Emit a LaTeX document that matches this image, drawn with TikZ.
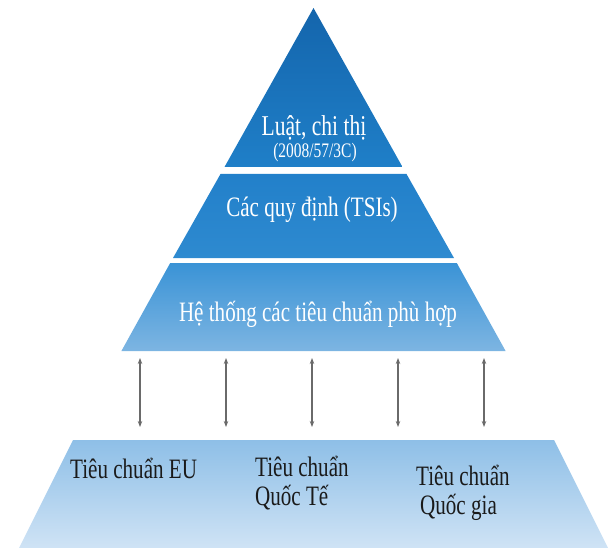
\documentclass[tikz,border=0pt]{standalone}
\usepackage{fontspec}
\setmainfont{Liberation Serif}[FakeStretch=0.75]
\usetikzlibrary{arrows.meta}
\definecolor{tierA}{HTML}{1465AC}
\definecolor{tierAb}{HTML}{1F7FC8}
\definecolor{tierB}{HTML}{2280CA}
\definecolor{tierBb}{HTML}{2E8AD0}
\definecolor{tierC}{HTML}{3A93D6}
\definecolor{tierCb}{HTML}{7DB5E2}
\definecolor{tierD}{HTML}{8EBFE7}
\definecolor{tierDb}{HTML}{CFE3F5}
\definecolor{arrowgray}{HTML}{6A6A6A}
\definecolor{darktext}{HTML}{1A1A1A}
\tikzset{
  whitelabel/.style={text=white, inner sep=0pt, anchor=base},
  darklabel/.style={text=darktext, inner sep=0pt, anchor=base west, align=left},
  linkarrow/.style={draw=arrowgray, line width=1.2bp, {Stealth[length=6bp,width=4.5bp]}-{Stealth[length=6bp,width=4.5bp]}}
}
\begin{document}
\begin{tikzpicture}[x=1bp,y=-1bp]
\useasboundingbox (0,0) rectangle (614,548);
% pyramid tiers
\shade[top color=tierA, bottom color=tierAb] (313.5,8) -- (402.5,167) -- (224.5,167) -- cycle;
\shade[top color=tierB, bottom color=tierBb] (220.5,174) -- (406.5,174) -- (454,258) -- (173,258) -- cycle;
\shade[top color=tierC, bottom color=tierCb] (170.2,263) -- (456.8,263) -- (505.6,351) -- (121.4,351) -- cycle;
\shade[top color=tierD, bottom color=tierDb] (73,440) -- (554,440) -- (608,548) -- (19,548) -- cycle;
% labels
\node[whitelabel, font=\fontsize{28.8}{31}\selectfont] (luat) at (314,136) {Luật, chi thị};
\node[whitelabel, font=\fontsize{20.7}{23}\selectfont] (chithi) at (315,158) {(2008/57/3C)};
\node[whitelabel, font=\fontsize{28.2}{31}\selectfont] (tsi) at (312,217) {Các quy định (TSIs)};
\node[whitelabel, font=\fontsize{28.2}{31}\selectfont] (he) at (318,321) {Hệ thống các tiêu chuẩn phù hợp};
\node[darklabel, font=\fontsize{28.2}{29}\selectfont] (eu) at (70,478) {Tiêu chuẩn EU};
\node[darklabel, font=\fontsize{28.2}{29}\selectfont] (qt) at (255,505) {Tiêu chuẩn\\Quốc Tế};
\node[darklabel, font=\fontsize{28.2}{29}\selectfont] (qg) at (416,514) {Tiêu chuẩn\\\hspace{4bp}Quốc gia};
% arrows
\foreach \i/\x in {1/140,2/226,3/312,4/398,5/484}{
  \coordinate (t\i) at (\x,358);
  \coordinate (b\i) at (\x,427);
  \draw[linkarrow] (t\i) -- (b\i);
}
\end{tikzpicture}
\end{document}
